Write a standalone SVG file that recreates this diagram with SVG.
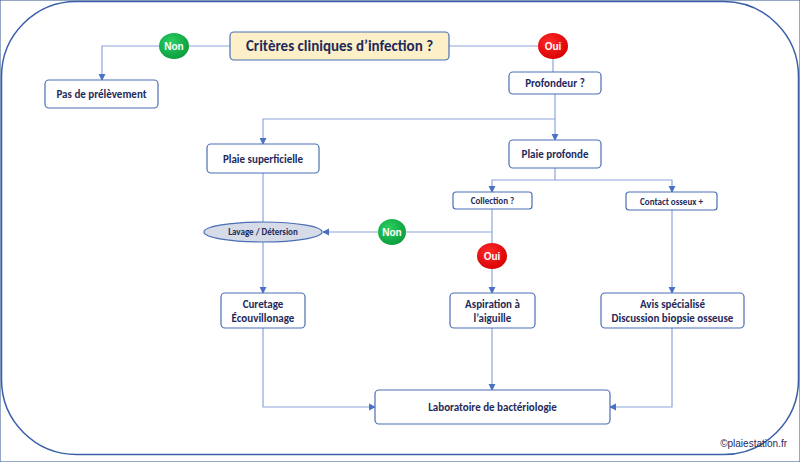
<svg xmlns="http://www.w3.org/2000/svg" width="800" height="462" viewBox="0 0 800 462">
<defs>
<marker id="a" viewBox="0 0 8 8" refX="7" refY="4" markerWidth="6" markerHeight="6" orient="auto"><path d="M0,0 L8,4 L0,8 z" fill="#4a72c4"/></marker>
<radialGradient id="g" cx="0.4" cy="0.35" r="0.7"><stop offset="0" stop-color="#2ad063"/><stop offset="1" stop-color="#0a9a3a"/></radialGradient>
<radialGradient id="r" cx="0.4" cy="0.35" r="0.7"><stop offset="0" stop-color="#ff2a2a"/><stop offset="1" stop-color="#d80000"/></radialGradient>
</defs>
<style>
.b{fill:#fff;stroke:#4a6fb5;stroke-width:1.2}
.t{font-family:Calibri,"Liberation Sans",sans-serif;font-weight:bold;fill:#1f2a5a;text-anchor:middle}
.w{font-family:"Liberation Sans",sans-serif;font-weight:bold;fill:#fff;text-anchor:middle;font-size:10px}
.c{fill:none;stroke:#8ea6dc;stroke-width:1.2}
</style>
<rect x="0" y="0" width="800" height="462" fill="#fff"/>
<path d="M0,0 H800 V462 H0 Z" fill="none" stroke="#2f4e8c" stroke-width="1"/>
<rect x="1.5" y="1.5" width="797" height="453" rx="75" fill="#fff" stroke="#3a5fa8" stroke-width="1.5"/>
<g id="connectors">
<path class="c" d="M230,46 H188 M160,46 H102 V80" marker-end="url(#a)"/>
<path class="c" d="M449,46 H539 M553,59 V72"/>
<path class="c" d="M555,94 V140" marker-end="url(#a)"/>
<path class="c" d="M555,119 H263 V144" marker-end="url(#a)"/>
<path class="c" d="M555,168 V180 H492 V192" marker-end="url(#a)"/>
<path class="c" d="M555,180 H672 V192" marker-end="url(#a)"/>
<path class="c" d="M492,209 V243 M492,232 H406"/>
<path class="c" d="M378,232 H323" marker-end="url(#a)"/>
<path class="c" d="M263,173 V222 M263,242 V293" marker-end="url(#a)"/>
<path class="c" d="M492,269 V293" marker-end="url(#a)"/>
<path class="c" d="M672,210 V293" marker-end="url(#a)"/>
<path class="c" d="M263,328 V407 H375" marker-end="url(#a)"/>
<path class="c" d="M492,328 V390" marker-end="url(#a)"/>
<path class="c" d="M672,328 V407 H610" marker-end="url(#a)"/>
</g>
<g id="title"><rect x="230" y="32" width="219" height="28" rx="4" fill="#fdf0c8" stroke="#4a6fb5" stroke-width="1.2"/><text class="t" x="339.5" y="51" font-size="15">Critères cliniques d’infection ?</text></g>
<g id="non1"><ellipse cx="174" cy="46" rx="15" ry="13" fill="url(#g)"/><text class="w" x="174" y="49.5">Non</text></g>
<g id="oui1"><ellipse cx="553" cy="46" rx="15" ry="13" fill="url(#r)"/><text class="w" x="553" y="49.5">Oui</text></g>
<g id="pas"><rect class="b" x="45" y="80" width="113" height="28" rx="4"/><text class="t" x="101.5" y="98" font-size="11">Pas de prélèvement</text></g>
<g id="prof"><rect class="b" x="509" y="72" width="92" height="22" rx="4"/><text class="t" x="555" y="87" font-size="11">Profondeur ?</text></g>
<g id="sup"><rect class="b" x="207" y="144" width="112" height="29" rx="4"/><text class="t" x="263" y="162.5" font-size="11">Plaie superficielle</text></g>
<g id="pp"><rect class="b" x="509" y="140" width="92" height="28" rx="4"/><text class="t" x="555" y="158" font-size="11">Plaie profonde</text></g>
<g id="coll"><rect class="b" x="453" y="192" width="79" height="17" rx="3"/><text class="t" x="492.5" y="204" font-size="9">Collection ?</text></g>
<g id="cont"><rect class="b" x="626" y="192" width="91" height="18" rx="3"/><text class="t" x="671.5" y="204.5" font-size="9">Contact osseux +</text></g>
<g id="lav"><ellipse cx="263" cy="232" rx="59" ry="10" fill="#d5dce8" stroke="#4a6fb5" stroke-width="1.2"/><text class="t" x="263" y="235" font-size="9">Lavage / Détersion</text></g>
<g id="non2"><ellipse cx="392" cy="232" rx="14" ry="13" fill="url(#g)"/><text class="w" x="392" y="235.5">Non</text></g>
<g id="oui2"><ellipse cx="492" cy="256" rx="15" ry="13" fill="url(#r)"/><text class="w" x="492" y="259.5">Oui</text></g>
<g id="cur"><rect class="b" x="221" y="293" width="84" height="35" rx="4"/><text class="t" x="263" y="308" font-size="11">Curetage</text><text class="t" x="263" y="322" font-size="11">Écouvillonage</text></g>
<g id="asp"><rect class="b" x="450" y="293" width="85" height="35" rx="4"/><text class="t" x="492.5" y="308" font-size="11">Aspiration  à</text><text class="t" x="492.5" y="322" font-size="11">l’aiguille</text></g>
<g id="avis"><rect class="b" x="601" y="293" width="143" height="35" rx="4"/><text class="t" x="672.5" y="308" font-size="11">Avis spécialisé</text><text class="t" x="672.5" y="322" font-size="11">Discussion biopsie osseuse</text></g>
<g id="lab"><rect class="b" x="375" y="390" width="235" height="34" rx="4"/><text class="t" x="492.5" y="411" font-size="11">Laboratoire de bactériologie</text></g>
<text x="787" y="447" font-family="'Liberation Sans',sans-serif" font-size="10" fill="#1f2a5a" text-anchor="end">©plaiestation.fr</text>
</svg>
